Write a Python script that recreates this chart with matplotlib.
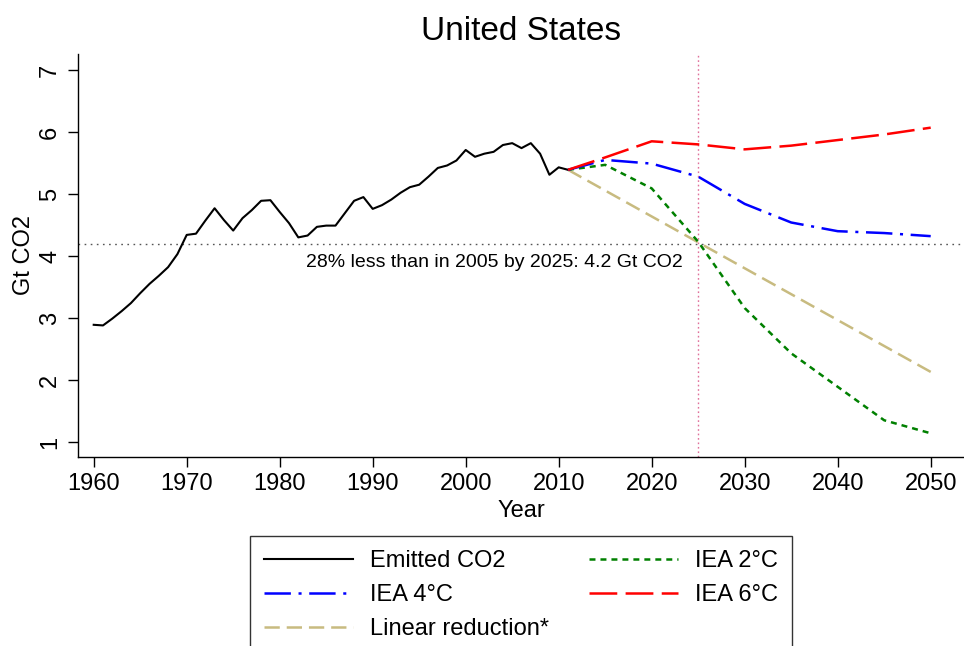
import numpy as np
import matplotlib
matplotlib.use("Agg")
import matplotlib.pyplot as plt

plt.rcParams['font.family'] = ['Liberation Sans', 'DejaVu Sans']
plt.rcParams['lines.scale_dashes'] = False

# emitted CO2, Gt
years = list(range(1960, 2012))
emitted = [2.89, 2.88, 2.99, 3.11, 3.24, 3.40, 3.55, 3.68, 3.82, 4.03,
           4.34, 4.36, 4.57, 4.77, 4.58, 4.41, 4.61, 4.74, 4.89, 4.90,
           4.71, 4.53, 4.30, 4.33, 4.47, 4.49, 4.49, 4.69, 4.89, 4.95,
           4.76, 4.82, 4.91, 5.02, 5.11, 5.15, 5.28, 5.42, 5.46, 5.54,
           5.71, 5.60, 5.65, 5.68, 5.79, 5.82, 5.74, 5.82, 5.65, 5.31,
           5.43, 5.39]

# IEA scenarios
iea_years = [2011, 2015, 2020, 2025, 2030, 2035, 2040, 2045, 2050]
iea_2c = [5.39, 5.47, 5.09, 4.23, 3.16, 2.43, 1.89, 1.35, 1.14]
iea_4c = [5.39, 5.55, 5.49, 5.28, 4.84, 4.54, 4.40, 4.37, 4.32]
iea_6c = [5.39, 5.59, 5.85, 5.80, 5.72, 5.78, 5.87, 5.96, 6.07]

lin_years = [2011, 2050]
lin_red = [5.39, 2.13]

target_value = 4.2
target_year = 2025
note = "28% less than in 2005 by 2025: 4.2 Gt CO2"

fig = plt.figure(figsize=(9.64, 6.46), dpi=100)
ax = fig.add_axes([0.0809, 0.2926, 0.9191, 0.6238])

ax.axhline(target_value, color='#555555', lw=1.0, ls=(0, (1.2, 3.2)), zorder=1)
ax.axvline(target_year, color='#e0709a', lw=1.0, ls=(0, (1.2, 2.0)), zorder=1)

l_em, = ax.plot(years, emitted, color='black', lw=1.5, label='Emitted CO2', zorder=3)
l_2c, = ax.plot(iea_years, iea_2c, color='#008000', lw=1.8, ls=(0, (4.3, 3.6)),
                label='IEA 2°C', zorder=3)
l_4c, = ax.plot(iea_years, iea_4c, color='#0000ff', lw=1.8,
                ls=(0, (19, 5.5, 2.2, 5.5)), label='IEA 4°C', zorder=3)
l_6c, = ax.plot(iea_years, iea_6c, color='#ff0000', lw=1.8, ls=(0, (20, 6)),
                label='IEA 6°C', zorder=3)
l_lin, = ax.plot(lin_years, lin_red, color='#c8bb80', lw=1.8, ls=(0, (11, 5)),
                 label='Linear reduction*', zorder=2)

ax.text(2003.1, 3.90, note, ha='center', va='center', fontsize=14)

ax.set_xlim(1958.31, 2053.58)
ax.set_ylim(0.758, 7.258)
ax.set_xticks(range(1960, 2051, 10))
ax.set_yticks(range(1, 8))
for s in ['top', 'right']:
    ax.spines[s].set_visible(False)
for s in ['left', 'bottom']:
    ax.spines[s].set_linewidth(1.0)
ax.tick_params(axis='both', labelsize=17, length=7.2, width=1.0)
ax.tick_params(axis='x', pad=4)
ax.tick_params(axis='y', pad=5)
for lab in ax.get_yticklabels():
    lab.set_rotation(90)
    lab.set_va('center')

ax.set_xlabel('Year', fontsize=17, labelpad=4)
ax.set_ylabel('Gt CO2', fontsize=17, labelpad=3)
ax.set_title('United States', fontsize=24, pad=10)

leg = fig.legend([l_em, l_4c, l_lin, l_2c, l_6c],
                 ['Emitted CO2', 'IEA 4°C', 'Linear reduction*', 'IEA 2°C', 'IEA 6°C'],
                 loc='upper center', bbox_to_anchor=(0.5405, 0.1708), ncol=2,
                 fontsize=17, frameon=True, fancybox=False, edgecolor='black',
                 handlelength=3.77, handletextpad=0.72, columnspacing=1.7,
                 labelspacing=0.51, borderpad=0.6, borderaxespad=0)
leg.get_frame().set_linewidth(1.0)

fig.savefig('out.png', dpi=100)
